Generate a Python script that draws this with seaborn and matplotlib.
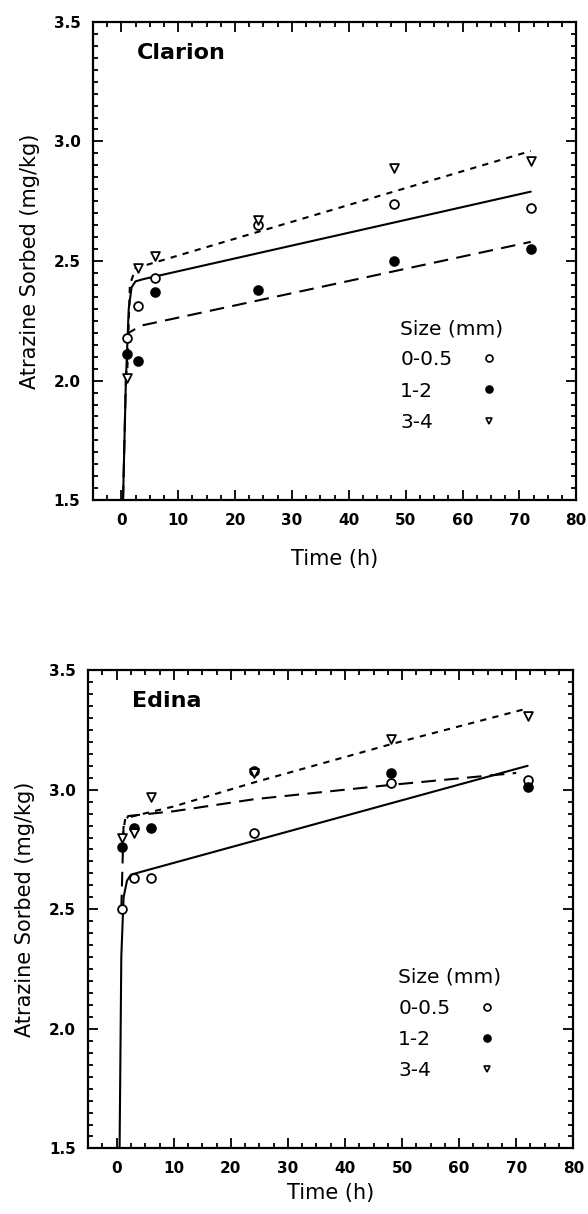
import numpy as np
import matplotlib
matplotlib.use("Agg")
import matplotlib.pyplot as plt
from matplotlib.lines import Line2D
from matplotlib.ticker import MultipleLocator
import seaborn as sns

times = [1, 3, 6, 24, 48, 72]
sizes = ["0-0.5", "1-2", "3-4"]

clarion_pts = {
    "0-0.5": [2.18, 2.31, 2.43, 2.65, 2.74, 2.72],
    "1-2":   [2.11, 2.08, 2.37, 2.38, 2.50, 2.55],
    "3-4":   [2.01, 2.47, 2.52, 2.67, 2.89, 2.92],
}
edina_pts = {
    "0-0.5": [2.50, 2.63, 2.63, 2.82, 3.03, 3.04],
    "1-2":   [2.76, 2.84, 2.84, 3.08, 3.07, 3.01],
    "3-4":   [2.80, 2.82, 2.97, 3.07, 3.21, 3.31],
}

# fitted model curves
clarion_fit_t = {
    "0-0.5": [0.3, 0.8, 1.3, 1.8, 2.5, 4, 72],
    "1-2":   [0.3, 0.8, 1.3, 3.5, 72],
    "3-4":   [1.0, 1.5, 2.5, 72],
}
clarion_fit_y = {
    "0-0.5": [1.5, 2.0, 2.3, 2.39, 2.415, 2.425, 2.79],
    "1-2":   [1.5, 2.0, 2.2, 2.23, 2.58],
    "3-4":   [2.0, 2.40, 2.47, 2.96],
}
edina_fit_t = {
    "0-0.5": [0.5, 0.8, 1.2, 1.8, 2.5, 72],
    "1-2":   [0.8, 1.2, 2, 10, 24, 48, 70],
    "3-4":   [1.0, 1.5, 3, 10, 24, 48, 72],
}
edina_fit_y = {
    "0-0.5": [1.5, 2.3, 2.55, 2.62, 2.645, 3.10],
    "1-2":   [2.50, 2.85, 2.89, 2.91, 2.96, 3.02, 3.07],
    "3-4":   [2.80, 2.88, 2.89, 2.93, 3.03, 3.19, 3.34],
}

marker_style = {
    "0-0.5": dict(marker="o", color="white", edgecolor="black"),
    "1-2":   dict(marker="o", color="black", edgecolor="black"),
    "3-4":   dict(marker="v", color="white", edgecolor="black"),
}
line_style = {
    "0-0.5": "-",
    "1-2":   (0, (7, 4)),
    "3-4":   (0, (3, 3)),
}

sns.set_style("ticks")
plt.rcParams["font.family"] = ["DejaVu Sans"]
plt.rcParams["text.color"] = "black"
plt.rcParams["axes.labelcolor"] = "black"

DPI = 100
fig = plt.figure(figsize=(5.88, 12.14), dpi=DPI)
ax1 = fig.add_axes([0.158, 0.588, 0.822, 0.394])
ax2 = fig.add_axes([0.150, 0.054, 0.825, 0.394])

legends = []


def draw_panel(ax, pts, fit_t, fit_y, name, leg_anchor, xpad):
    for s in sizes:
        sns.lineplot(x=fit_t[s], y=fit_y[s], ax=ax, color="black",
                     linewidth=1.5, linestyle=line_style[s],
                     sort=False, estimator=None)
        sns.scatterplot(x=times, y=pts[s], ax=ax, s=40, linewidth=1.3,
                        zorder=3, **marker_style[s])

    ax.set_xlim(-5, 80)
    ax.set_ylim(1.5, 3.5)
    ax.xaxis.set_major_locator(MultipleLocator(10))
    ax.xaxis.set_minor_locator(MultipleLocator(2.5))
    ax.yaxis.set_major_locator(MultipleLocator(0.5))
    ax.yaxis.set_minor_locator(MultipleLocator(0.05))
    ax.tick_params(which="both", direction="in", top=True, right=True,
                   width=1.3, labelsize=11, colors="black")
    ax.tick_params(which="major", length=7, pad=9)
    ax.tick_params(which="minor", length=3.5)
    for lab in ax.get_xticklabels() + ax.get_yticklabels():
        lab.set_fontweight("bold")
    for sp in ax.spines.values():
        sp.set_linewidth(1.6)
        sp.set_color("black")

    ax.set_xlabel("Time (h)", fontsize=15, labelpad=xpad)
    ax.set_ylabel("Atrazine Sorbed (mg/kg)", fontsize=15, labelpad=10)
    ax.text(0.09, 0.935, name, transform=ax.transAxes, fontsize=16,
            fontweight="bold", va="center", ha="left")

    handles = []
    for s in sizes:
        ms = marker_style[s]
        handles.append(Line2D([], [], linestyle="none", marker=ms["marker"],
                              markerfacecolor=ms["color"],
                              markeredgecolor="black", markeredgewidth=1.2,
                              markersize=5, label=s))
    leg = ax.legend(handles=handles, title="Size (mm)", loc="upper left",
                    bbox_to_anchor=leg_anchor, frameon=False,
                    markerfirst=False, fontsize=14.5, title_fontsize=14.5,
                    labelspacing=0.6, handletextpad=1.3, handlelength=1.0,
                    alignment="left", borderaxespad=0, borderpad=0)
    # left-align the labels, keep the markers in one column
    for col in leg._legend_handle_box.get_children():
        col.align = "left"
    legends.append(leg)


draw_panel(ax1, clarion_pts, clarion_fit_t, clarion_fit_y, "Clarion", (0.636, 0.378), 15)
draw_panel(ax2, edina_pts, edina_fit_t, edina_fit_y, "Edina", (0.639, 0.378), 5)

fig.canvas.draw()
rend = fig.canvas.get_renderer()
for leg in legends:
    texts = leg.get_texts()
    widths = [t.get_window_extent(rend).width for t in texts]
    wmax = max(widths)
    items = [it for col in leg._legend_handle_box.get_children()
             for it in col.get_children()]
    for it, w in zip(items, widths):
        it.sep = it.sep + (wmax - w) * 72.0 / DPI

fig.savefig("out.png", dpi=DPI)
